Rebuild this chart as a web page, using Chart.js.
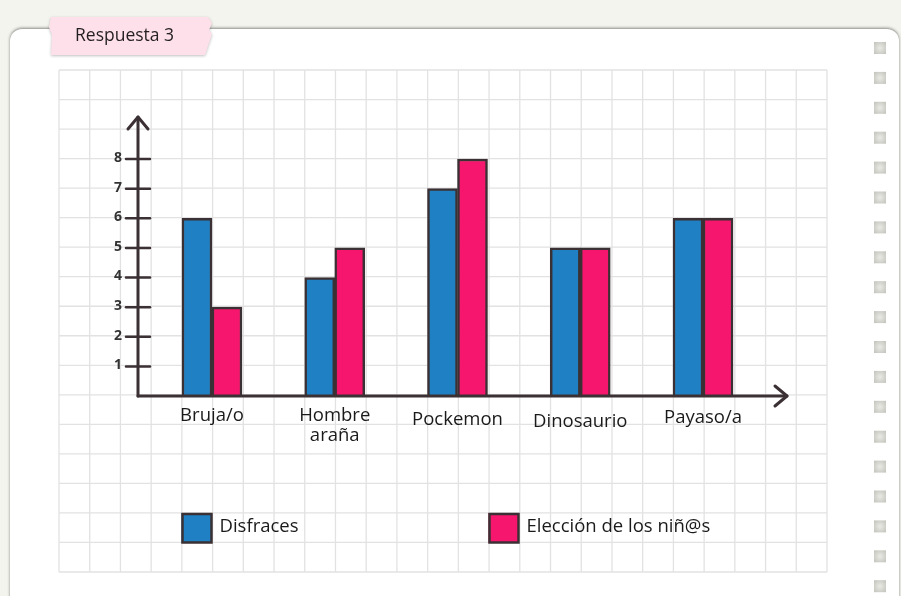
<!DOCTYPE html>
<html>
<head>
<meta charset="utf-8">
<script src="https://cdn.jsdelivr.net/npm/chart.js@4"></script>
<style>
  html, body { margin: 0; padding: 0; background: #f4f4ee; }
  #wrap { width: 901px; height: 596px; }
</style>
</head>
<body>
<div id="wrap"><canvas id="grafico" width="901" height="596"></canvas></div>
<script>
// datos del gráfico
var categorias = ["Bruja/o", ["Hombre", "araña"], "Pockemon", "Dinosaurio", "Payaso/a"];
var disfraces = [6, 4, 7, 5, 6];
var eleccion = [3, 5, 8, 5, 6];
var marcasY = [1, 2, 3, 4, 5, 6, 7, 8];
var titulo = "Respuesta 3";

var AZUL = "#1f80c3";
var ROSA = "#f7166d";
var TINTA = "#3b3033";
var FUENTE = "'Open Sans', 'Noto Sans', sans-serif";

// dibuja el cuaderno (fondo, tarjeta, pestaña, cuadrícula, leyenda)
var fondo = {
    id: "fondo",
    beforeDraw: function (chart) {
        var c = chart.ctx;
        c.save();
        c.fillStyle = "#f4f4ee";
        c.fillRect(0, 0, 901, 596);

        // tarjeta blanca
        c.shadowColor = "rgba(0,0,0,0.45)";
        c.shadowBlur = 3;
        c.shadowOffsetY = -1;
        c.fillStyle = "#ffffff";
        c.beginPath();
        c.roundRect(10, 29, 889, 600, 12);
        c.fill();
        c.restore();

        // cuadrícula
        c.save();
        c.strokeStyle = "#e2e2e2";
        c.lineWidth = 1.3;
        var x0 = 59, x1 = 827, y0 = 70, y1 = 572;
        for (var i = 0; i <= 25; i++) {
            var x = x0 + i * (x1 - x0) / 25;
            c.beginPath(); c.moveTo(x, y0); c.lineTo(x, y1); c.stroke();
        }
        for (var j = 0; j <= 17; j++) {
            var y = y0 + j * (y1 - y0) / 17;
            c.beginPath(); c.moveTo(x0, y); c.lineTo(x1, y); c.stroke();
        }
        c.restore();

        // cuadritos del margen derecho
        c.save();
        for (var k = 0; k < 19; k++) {
            var sy = 42 + k * 29.9;
            var g = c.createRadialGradient(880, sy + 6, 1, 880, sy + 6, 8);
            g.addColorStop(0, "#e6e6e1");
            g.addColorStop(1, "#c4c4bd");
            c.fillStyle = g;
            c.fillRect(874, sy, 12, 12);
        }
        c.restore();

        // pestaña rosa
        c.save();
        c.shadowColor = "rgba(0,0,0,0.25)";
        c.shadowBlur = 3;
        c.shadowOffsetY = 1;
        c.fillStyle = "#fde0ea";
        c.beginPath();
        c.moveTo(51, 17);
        c.lineTo(208, 17);
        c.lineTo(212, 23);
        c.lineTo(209, 30);
        c.lineTo(212, 34);
        c.lineTo(205, 55);
        c.lineTo(51, 55);
        c.lineTo(52, 35);
        c.lineTo(49, 27);
        c.closePath();
        c.fill();
        c.restore();
        c.save();
        c.fillStyle = "#231f20";
        c.font = "17.5px " + FUENTE;
        c.textBaseline = "middle";
        c.fillText(titulo, 75, 36);
        c.restore();

        // leyenda
        c.save();
        var items = chart.data.datasets;
        var posX = [181.5, 488.5];
        c.font = "18.5px " + FUENTE;
        c.textBaseline = "middle";
        items.forEach(function (ds, n) {
            c.fillStyle = ds.backgroundColor;
            c.fillRect(posX[n], 513, 30.5, 30);
            c.strokeStyle = TINTA;
            c.lineWidth = 2.5;
            c.strokeRect(posX[n] + 1, 514, 29, 28.5);
            c.fillStyle = "#1a1a1a";
            c.fillText(ds.label, posX[n] + 38, 527);
        });
        c.restore();
    }
};

// dibuja los ejes a mano alzada con sus flechas y rótulos
var ejes = {
    id: "ejes",
    afterDatasetsDraw: function (chart) {
        var c = chart.ctx;
        var sx = chart.scales.x, sy = chart.scales.y;
        var cero = sy.getPixelForValue(0);
        var ejeX = 138;
        c.save();
        c.strokeStyle = TINTA;
        c.lineWidth = 3;
        c.lineCap = "round";
        c.lineJoin = "round";

        // eje vertical y flecha
        c.beginPath(); c.moveTo(ejeX, cero); c.lineTo(ejeX, 117); c.stroke();
        c.beginPath(); c.moveTo(ejeX - 10, 129); c.lineTo(ejeX, 117); c.lineTo(ejeX + 10, 129); c.stroke();

        // eje horizontal y flecha
        c.beginPath(); c.moveTo(ejeX, cero); c.lineTo(787, cero); c.stroke();
        c.beginPath(); c.moveTo(775, cero - 10); c.lineTo(787, cero); c.lineTo(775, cero + 10); c.stroke();

        // marcas del eje Y
        c.lineWidth = 2.5;
        c.font = "bold 14px " + FUENTE;
        c.fillStyle = "#333";
        c.textAlign = "right";
        c.textBaseline = "middle";
        marcasY.forEach(function (v) {
            var y = sy.getPixelForValue(v);
            c.beginPath(); c.moveTo(ejeX - 12, y); c.lineTo(ejeX + 12, y); c.stroke();
            c.fillText(String(v), ejeX - 16, y - 1);
        });

        // rótulos de categorías
        var ajuste = [20, 20, 24, 26, 22];
        c.font = "18.5px " + FUENTE;
        c.fillStyle = "#1a1a1a";
        c.textAlign = "center";
        categorias.forEach(function (lab, i) {
            var x = sx.getPixelForValue(i);
            var lineas = Array.isArray(lab) ? lab : [lab];
            lineas.forEach(function (t, l) {
                c.fillText(t, x, cero + ajuste[i] + l * 20);
            });
        });
        c.restore();
    }
};

var ctx = document.getElementById("grafico").getContext("2d");
new Chart(ctx, {
    type: "bar",
    data: {
        labels: categorias,
        datasets: [
            {
                label: "Disfraces",
                data: disfraces,
                backgroundColor: AZUL,
                borderColor: TINTA,
                borderWidth: 2.5,
                barThickness: 30
            },
            {
                label: "Elección de los niñ@s",
                data: eleccion,
                backgroundColor: ROSA,
                borderColor: TINTA,
                borderWidth: 2.5,
                barThickness: 30
            }
        ]
    },
    options: {
        responsive: false,
        animation: false,
        layout: { padding: { left: 150.6, right: 136.6, top: 129.4, bottom: 200 } },
        scales: {
            x: { display: false, offset: true },
            y: { display: false, min: 0, max: 9 }
        },
        plugins: {
            legend: { display: false },
            tooltip: { enabled: false }
        }
    },
    plugins: [fondo, ejes]
});
</script>
</body>
</html>
